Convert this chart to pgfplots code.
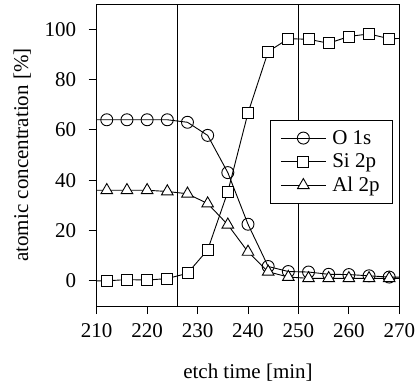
\documentclass[border=0pt]{standalone}
\usepackage{fontspec}
\setmainfont{Liberation Serif}
\usepackage{pgfplots}
\pgfplotsset{compat=1.18}
\begin{document}
\begin{tikzpicture}
\begin{axis}[name=ax, scale only axis, width=302.6pt, height=302pt,
 xmin=210,xmax=270,ymin=-10,ymax=110,
 xtick={210,220,...,270}, ytick={0,20,...,100},
 tick align=outside, xtick pos=bottom, ytick pos=left, major tick length=8pt,
 axis line style={line width=0.8pt}, every tick/.style={black, line width=0.8pt},
 /pgf/number format/assume math mode=true,
 font=\fontsize{21}{25}\selectfont,
 tick label style={font=\fontsize{21}{25}\selectfont},
 yticklabel style={xshift=-9pt},
 xticklabel style={yshift=-6pt},
 xlabel={etch time [min]}, ylabel={atomic concentration [\%]},
 xlabel style={at={(axis description cs:0.5,-0.240)}, anchor=base},
 ylabel style={at={(axis description cs:-0.227,0.5)}, anchor=base},
 clip marker paths=true,
 legend style={at={(0.5727,0.616)}, anchor=north west, draw=black, fill=white,
   line width=0.8pt, font=\fontsize{21}{25}\selectfont,
   inner xsep=10pt, inner ysep=7pt, row sep=2pt, column sep=3pt, nodes={inner sep=3pt}},
 legend cell align=left,
 legend image code/.code={\draw[mark repeat=2,mark phase=2] plot coordinates {(0pt,0pt) (22.5pt,0pt) (45pt,0pt)};},
]
\addplot[forget plot, line width=0.6pt] coordinates {(226,-10) (226,110)};
\addplot[forget plot, line width=0.6pt] coordinates {(250,-10) (250,110)};
\addplot[black, line width=0.9pt, mark=o, mark size=6pt, mark options={fill=white, solid}] coordinates {
(208,64) (212,64) (216,64) (220,64) (224,64) (228,63) (232,57.8) (236,43) (240,22.5) (244,5.7) (248,3.7) (252,3.5) (256,2.6) (260,2.5) (264,2) (268,1.5) (272,1.5)};
\addlegendentry{O 1s}
\addplot[black, line width=0.9pt, mark=square*, mark size=5.5pt, mark options={fill=white, solid}] coordinates {
(208,0) (212,0) (216,0.5) (220,0.3) (224,0.9) (228,3) (232,12.3) (236,35.4) (240,66.7) (244,91.1) (248,96.2) (252,96) (256,94.4) (260,97.1) (264,98.1) (268,96.2) (272,96.4)};
\addlegendentry{Si 2p}
\addplot[black, line width=0.9pt, mark=triangle*, mark size=6.7pt, mark options={fill=white, solid}] coordinates {
(208,36) (212,36) (216,36) (220,36) (224,35.5) (228,34.6) (232,30.7) (236,22.3) (240,11.5) (244,3.6) (248,1.5) (252,1) (256,1) (260,1) (264,1) (268,1) (272,1)};
\addlegendentry{Al 2p}
\end{axis}
\pgfresetboundingbox
\path ([xshift=-96.7pt,yshift=-83pt]ax.south west) rectangle ([xshift=19.7pt,yshift=4pt]ax.north east);
\end{tikzpicture}
\end{document}
